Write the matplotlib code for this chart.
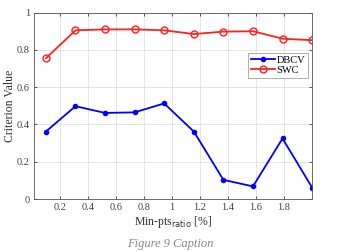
import matplotlib
matplotlib.use("Agg")
import matplotlib.pyplot as plt
import numpy as np

# values
minPtsRatio = [0.1, 0.311, 0.522, 0.733, 0.944, 1.156, 1.367, 1.578, 1.789, 2.0]
dbcv = [0.362, 0.498, 0.462, 0.465, 0.513, 0.362, 0.103, 0.068, 0.325, 0.062]
swc = [0.755, 0.905, 0.91, 0.91, 0.905, 0.885, 0.898, 0.9, 0.86, 0.852]
xTicks = [0.2, 0.4, 0.6, 0.8, 1.0, 1.2, 1.4, 1.6, 1.8]
xTickLabels = ["0.2", "0.4", "0.6", "0.8", "1", "1.2", "1.4", "1.6", "1.8"]
yTicks = [0, 0.2, 0.4, 0.6, 0.8, 1.0]
yTickLabels = ["0", "0.2", "0.4", "0.6", "0.8", "1"]

plt.rcParams['font.family'] = ['Liberation Serif', 'DejaVu Serif']

fig = plt.figure(figsize=(3.45, 2.52), dpi=100)
ax = fig.add_axes([0.0986, 0.21, 0.806, 0.74])

ax.plot(minPtsRatio, dbcv, color='#0000ff', marker='o', markersize=3,
        linewidth=1.3, label='DBCV')
ax.plot(minPtsRatio, swc, color='#ff2020', marker='o', markersize=5,
        markerfacecolor='none', markeredgewidth=1.0, linewidth=1.3, label='SWC')

ax.set_xlim(0.015, 2.0)
ax.set_ylim(0, 1)
ax.set_xticks(xTicks)
ax.set_xticklabels(xTickLabels)
ax.set_yticks(yTicks)
ax.set_yticklabels(yTickLabels)
ax.grid(True, color='#e0e0e0', linewidth=0.6)
ax.set_axisbelow(True)
ax.tick_params(direction='in', length=2.5, width=0.6, labelsize=7.5,
               colors='#404040', top=True, right=True, pad=3)
for spine in ax.spines.values():
    spine.set_color('#555555')
    spine.set_linewidth(0.6)

ax.set_xlabel(r'Min-pts$_{\mathrm{ratio}}$ [%]', fontsize=8.5, color='#303030', labelpad=1)
ax.set_ylabel('Criterion Value', fontsize=8.5, color='#303030')
ax.yaxis.set_label_coords(-0.066, 0.5)

leg = ax.legend(loc='upper right', bbox_to_anchor=(0.985, 0.785), fontsize=7.5,
                frameon=True, fancybox=False, borderpad=0.25, handlelength=2.3,
                handletextpad=0.2, labelspacing=0.1, borderaxespad=0)
leg.get_frame().set_edgecolor('#888888')
leg.get_frame().set_linewidth(0.6)

fig.text(0.493, 0.006, 'Figure 9 Caption', fontsize=9, style='italic',
         color='#888888', ha='center', va='bottom')

fig.savefig('out.png', dpi=100)
